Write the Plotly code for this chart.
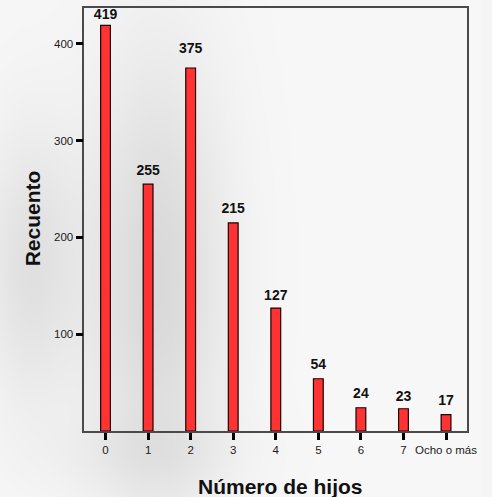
import numpy as np
import plotly.graph_objects as go

# Frequency table: number of children
categories = ["0", "1", "2", "3", "4", "5", "6", "7", "Ocho o más"]
counts = [419, 255, 375, 215, 127, 54, 24, 23, 17]
y_ticks = [100, 200, 300, 400]

# Spacing between each bar top and its count label (invisible marker sizes)
label_pad = [3, 8, 17, 9, 6.5, 8, 8, 4.5, 8]

W, H = 492, 497
FONT = "Arial, 'Liberation Sans', Helvetica, sans-serif"

# Soft grey backdrop shading (pixel grid of the page)
gx = np.linspace(-6, W + 6, 90)
gy = np.linspace(-6, H + 6, 90)
XX, YY = np.meshgrid(gx, gy)


def blob(cx, cy, sx, sy, amp):
    return amp * np.exp(-(((XX - cx) / sx) ** 2 + ((YY - cy) / sy) ** 2) / 2)


shade = (247
         - blob(160, 280, 50, 160, 30)
         - blob(30, 265, 35, 100, 22)
         - blob(150, 455, 70, 28, 8))

fig = go.Figure()

fig.add_trace(go.Heatmap(
    x=gx, y=gy, z=shade, zsmooth="best",
    colorscale=[[0, "rgb(190,190,190)"], [1, "rgb(250,250,250)"]],
    zmin=190, zmax=250, showscale=False, hoverinfo="skip",
    xaxis="x", yaxis="y",
))

fig.add_trace(go.Bar(
    x=categories, y=counts, width=0.23,
    marker=dict(color="#ff3333", line=dict(color="#1a0000", width=1.2)),
    xaxis="x2", yaxis="y2", showlegend=False, hoverinfo="x+y",
))

# Count labels above each bar
fig.add_trace(go.Scatter(
    x=categories, y=counts, mode="markers+text",
    marker=dict(size=label_pad, opacity=0),
    text=[str(v) for v in counts], textposition="top center",
    textfont=dict(family=FONT, size=14, color="#111111", weight="bold"),
    cliponaxis=False, xaxis="x2", yaxis="y2", showlegend=False,
    hoverinfo="skip",
))

x0, x1 = 86 / W, 477 / W
y0, y1 = (H - 431) / H, (H - 8) / H

fig.update_layout(
    width=W, height=H,
    margin=dict(l=0, r=0, t=0, b=0),
    paper_bgcolor="#f5f5f5",
    plot_bgcolor="rgba(0,0,0,0)",
    showlegend=False,
    xaxis=dict(domain=[0, 1], range=[0, W], visible=False, fixedrange=True),
    yaxis=dict(domain=[0, 1], range=[H, 0], visible=False, fixedrange=True),
    xaxis2=dict(
        domain=[x0, x1], anchor="y2", type="category",
        range=[-0.5, 8.5],
        showline=True, mirror=True, linecolor="#4a4a4a", linewidth=1.5,
        ticks="outside", ticklen=7, tickwidth=3, tickcolor="#000000",
        tickfont=dict(family=FONT, size=11.5, color="#1a1a1a"),
        showgrid=False, zeroline=False,
    ),
    yaxis2=dict(
        domain=[y0, y1], anchor="x2",
        range=[0, 437],
        tickvals=y_ticks,
        showline=True, mirror=True, linecolor="#4a4a4a", linewidth=1.5,
        ticks="outside", ticklen=7, tickwidth=3, tickcolor="#000000",
        tickfont=dict(family=FONT, size=11.5, color="#1a1a1a"),
        showgrid=False, zeroline=False,
    ),
    annotations=[
        dict(text="<b>Número de hijos</b>", x=286 / W, y=(H - 486) / H,
             xref="paper", yref="paper", showarrow=False,
             font=dict(family=FONT, size=21, color="#111111"),
             xanchor="center", yanchor="middle"),
        dict(text="<b>Recuento</b>", x=33 / W, y=(H - 218) / H,
             xref="paper", yref="paper", showarrow=False, textangle=-90,
             font=dict(family=FONT, size=21, color="#111111"),
             xanchor="center", yanchor="middle"),
    ],
)

fig.write_html("out.html")
